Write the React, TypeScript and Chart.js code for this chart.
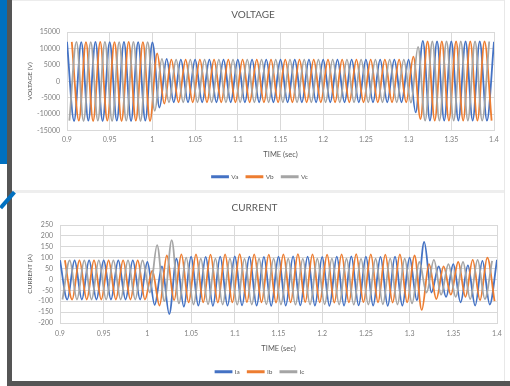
import React, { useEffect, useRef } from "react";
import { Chart, registerables } from "chart.js";
Chart.register(...registerables);

// Sample times (s), one every 1/360 s; phase A uses every 3rd from index 0, phase C from 1, phase B from 2
const TIME = [
  0.9, 0.9028, 0.9056, 0.9083, 0.9111, 0.9139, 0.9167, 0.9194, 0.9222, 0.925, 0.9278, 0.9306, 0.9333, 0.9361, 0.9389, 0.9417, 0.9444, 0.9472,
  0.95, 0.9528, 0.9556, 0.9583, 0.9611, 0.9639, 0.9667, 0.9694, 0.9722, 0.975, 0.9778, 0.9806, 0.9833, 0.9861, 0.9889, 0.9917, 0.9944, 0.9972,
  1.0, 1.0028, 1.0056, 1.0083, 1.0111, 1.0139, 1.0167, 1.0194, 1.0222, 1.025, 1.0278, 1.0306, 1.0333, 1.0361, 1.0389, 1.0417, 1.0444, 1.0472,
  1.05, 1.0528, 1.0556, 1.0583, 1.0611, 1.0639, 1.0667, 1.0694, 1.0722, 1.075, 1.0778, 1.0806, 1.0833, 1.0861, 1.0889, 1.0917, 1.0944, 1.0972,
  1.1, 1.1028, 1.1056, 1.1083, 1.1111, 1.1139, 1.1167, 1.1194, 1.1222, 1.125, 1.1278, 1.1306, 1.1333, 1.1361, 1.1389, 1.1417, 1.1444, 1.1472,
  1.15, 1.1528, 1.1556, 1.1583, 1.1611, 1.1639, 1.1667, 1.1694, 1.1722, 1.175, 1.1778, 1.1806, 1.1833, 1.1861, 1.1889, 1.1917, 1.1944, 1.1972,
  1.2, 1.2028, 1.2056, 1.2083, 1.2111, 1.2139, 1.2167, 1.2194, 1.2222, 1.225, 1.2278, 1.2306, 1.2333, 1.2361, 1.2389, 1.2417, 1.2444, 1.2472,
  1.25, 1.2528, 1.2556, 1.2583, 1.2611, 1.2639, 1.2667, 1.2694, 1.2722, 1.275, 1.2778, 1.2806, 1.2833, 1.2861, 1.2889, 1.2917, 1.2944, 1.2972,
  1.3, 1.3028, 1.3056, 1.3083, 1.3111, 1.3139, 1.3167, 1.3194, 1.3222, 1.325, 1.3278, 1.3306, 1.3333, 1.3361, 1.3389, 1.3417, 1.3444, 1.3472,
  1.35, 1.3528, 1.3556, 1.3583, 1.3611, 1.3639, 1.3667, 1.3694, 1.3722, 1.375, 1.3778, 1.3806, 1.3833, 1.3861, 1.3889, 1.3917, 1.3944, 1.3972,
  1.4,
];

const X_TICKS = [0.9, 0.95, 1, 1.05, 1.1, 1.15, 1.2, 1.25, 1.3, 1.35, 1.4];
const V_TICKS = [-15000, -10000, -5000, 0, 5000, 10000, 15000];
const I_TICKS = [-200, -150, -100, -50, 0, 50, 100, 150, 200, 250];

// Voltage waveform extrema (V)
const VA = [
  12000, -12100, 11900, -12000, 12000, -12100, 11900, -12000, 12000, -12100, 11900, -12000,
  11800, -8000, 6800, -6400,
  6600, -6400, 6600, -6400, 6600, -6400, 6600, -6400, 6600, -6400, 6600, -6400, 6600, -6400, 6600, -6400,
  6600, -6400, 6600, -6400, 6600, -6400, 6600, -6400, 6600, -6400, 6600, -6400, 6600, -6400, 6600, -6400,
  6600, -9500, 12300, -12000, 12100, -12000, 12100, -12000, 12100, -12000, 12100, -12000, 12000,
];
const VC = [
  -12000, 12000, -12100, 11900, -12000, 12000, -12100, 11900, -12000, 12000, -12100, 11900,
  -9000, 6800,
  -6400, 6600, -6400, 6600, -6400, 6600, -6400, 6600, -6400, 6600, -6400, 6600, -6400, 6600, -6400, 6600, -6400,
  6600, -6400, 6600, -6400, 6600, -6400, 6600, -6400, 6600, -6400, 6600, -6400, 6600, -6400, 6600, -6400, 6600,
  -6500, 10500, -12000, 12100, -12000, 12100, -12000, 12100, -12000, 12100, -12000, 12100,
];
const VB = [
  12000, -12000, 11900, -12100, 12000, -12000, 11900, -12100, 12000, -12000, 11900, -12100,
  8500, -6800,
  6600, -6400, 6600, -6400, 6600, -6400, 6600, -6400, 6600, -6400, 6600, -6400, 6600, -6400, 6600, -6400, 6600,
  -6400, 6600, -6400, 6600, -6400, 6600, -6400, 6600, -6400, 6600, -6400, 6600, -6400, 6600, -6400, 6600, -6400,
  7500, -11500, 12100, -12000, 12100, -12000, 12100, -12000, 12100, -12000, 12100, -12000,
];

// Current waveform extrema (A)
const IA = [
  88, -92, 88, -92, 88, -92, 88, -92, 88, -92, 88, -92,
  80, -117, 60, -159, 95, -125,
  105, -120, 104, -121, 105, -120, 106, -119, 105, -120, 104, -121, 105, -120, 106,
  -119, 105, -120, 104, -121, 105, -120, 106, -119, 105, -120, 104, -121, 105, -120,
  100, -95, 172, -60, 60, -80, 70, -105, 65, -120, 85, -115, 90,
];
const IC = [
  -92, 88, -92, 88, -92, 88, -92, 88, -92, 88, -92, 88,
  -60, 158, -100, 181, -110, 100,
  -115, 95, -114, 96, -115, 95, -116, 94, -115, 95, -114, 96, -115, 95, -116,
  94, -115, 95, -114, 96, -115, 95, -116, 94, -115, 95, -114, 96, -115, 95,
  -110, 80, -60, 90, -70, 70, -80, 80, -90, 90, -90, 85,
];
const IB = [
  88, -92, 88, -92, 88, -92, 88, -92, 88, -92, 88, -92,
  40, -120, 110, -95, 115, -105,
  115, -105, 114, -106, 115, -105, 116, -104, 115, -105, 114, -106, 115, -105, 116,
  -104, 115, -105, 114, -106, 115, -105, 116, -104, 115, -105, 114, -106, 115, -105,
  110, -140, 70, -90, 60, -70, 80, -80, 90, -95, 100, -100,
];

const BLUE = "#4472C4";
const ORANGE = "#ED7D31";
const GRAY = "#A5A5A5";
const FONT = "Lato";
const TEXT = "#595959";
const GRID = "#d9d9d9";
const LEGEND_PAD = 8;

function series(values: number[], offset: number) {
  return values.map((v, j) => ({ x: TIME[offset + 3 * j], y: v }));
}

type Cfg = {
  title: string;
  yTitle: string;
  yTicks: number[];
  names: string[];
  data: number[][];
  offsets: number[];
  yWidth: number;
  xHeight: number;
  titlePad: { top: number; bottom: number };
  xTickPad: number;
  xTitlePad: number;
  bottomPad: number;
  rightPad: number;
  legendCenter: number;
};

function WaveChart({ cfg, width, height }: { cfg: Cfg; width: number; height: number }) {
  const ref = useRef<HTMLCanvasElement | null>(null);
  useEffect(() => {
    if (!ref.current) return;
    const colors = [BLUE, ORANGE, GRAY];
    const legendPos = {
      id: "legendPos",
      beforeDraw(chart: any) {
        const lg = chart.legend;
        if (!lg) return;
        lg.left = 0;
        lg.right = 2 * cfg.legendCenter - LEGEND_PAD;
      },
    };
    const chart = new Chart(ref.current, {
      type: "line",
      data: {
        datasets: cfg.data.map((vals, i) => ({
          label: cfg.names[i],
          data: series(vals, cfg.offsets[i]),
          borderColor: colors[i],
          backgroundColor: colors[i],
          borderWidth: 1.8,
          pointRadius: 0,
          cubicInterpolationMode: "monotone",
          order: 3 - i,
        })),
      },
      options: {
        animation: false,
        responsive: false,
        maintainAspectRatio: false,
        layout: { padding: { left: 0, right: cfg.rightPad, top: 0, bottom: cfg.bottomPad } },
        plugins: {
          title: {
            display: true,
            text: cfg.title,
            color: TEXT,
            font: { family: FONT, size: 10, weight: "normal" },
            padding: cfg.titlePad,
          },
          legend: {
            position: "bottom",
            labels: {
              boxWidth: 16,
              boxHeight: 1,
              padding: LEGEND_PAD,
              color: TEXT,
              font: { family: FONT, size: 6.5 },
              sort: (a: any, b: any) => a.datasetIndex - b.datasetIndex,
            },
          },
          tooltip: { enabled: false },
        },
        scales: {
          x: {
            type: "linear",
            min: 0.9,
            max: 1.4,
            afterBuildTicks: (s: any) => {
              s.ticks = X_TICKS.map((v) => ({ value: v }));
            },
            afterFit: (s: any) => {
              s.height = cfg.xHeight;
            },
            ticks: {
              color: "#7f7f7f",
              font: { family: FONT, size: 7 },
              padding: cfg.xTickPad,
              maxRotation: 0,
              autoSkip: false,
              callback: (v: any) => String(v),
            },
            grid: { color: GRID, drawTicks: false },
            border: { color: GRID },
            title: {
              display: true,
              text: "TIME (sec)",
              color: TEXT,
              font: { family: FONT, size: 7.5 },
              padding: { top: 0, bottom: cfg.xTitlePad },
            },
          },
          y: {
            type: "linear",
            min: cfg.yTicks[0],
            max: cfg.yTicks[cfg.yTicks.length - 1],
            afterBuildTicks: (s: any) => {
              s.ticks = cfg.yTicks.map((v) => ({ value: v }));
            },
            afterFit: (s: any) => {
              s.width = cfg.yWidth;
            },
            ticks: {
              color: "#7f7f7f",
              font: { family: FONT, size: 7 },
              padding: 7,
              autoSkip: false,
              callback: (v: any) => String(v),
            },
            grid: { color: GRID, drawTicks: false },
            border: { color: GRID },
            title: {
              display: true,
              text: cfg.yTitle,
              color: TEXT,
              font: { family: FONT, size: 6.5 },
              padding: { top: 14, bottom: 0 },
            },
          },
        },
      } as any,
      plugins: [legendPos],
    });
    return () => chart.destroy();
  }, []);
  return <canvas ref={ref} width={width} height={height} style={{ display: "block" }} />;
}

const voltageCfg: Cfg = {
  title: "VOLTAGE",
  yTitle: "VOLTAGE (V)",
  yTicks: V_TICKS,
  names: ["Va", "Vb", "Vc"],
  data: [VA, VB, VC],
  offsets: [0, 2, 1],
  yWidth: 55,
  xHeight: 35,
  titlePad: { top: 9, bottom: 11 },
  xTickPad: 5,
  xTitlePad: 6,
  bottomPad: 0,
  rightPad: 16,
  legendCenter: 252,
};

const currentCfg: Cfg = {
  title: "CURRENT",
  yTitle: "CURRENT (A)",
  yTicks: I_TICKS,
  names: ["Ia", "Ib", "Ic"],
  data: [IA, IB, IC],
  offsets: [0, 2, 1],
  yWidth: 48,
  xHeight: 37.5,
  titlePad: { top: 10, bottom: 11 },
  xTickPad: 7,
  xTitlePad: 7,
  bottomPad: 1,
  rightPad: 13,
  legendCenter: 252,
};

export default function App() {
  const abs = (s: React.CSSProperties): React.CSSProperties => ({ position: "absolute", ...s });
  return (
    <div style={{ position: "fixed", left: 0, top: 0, width: 510, height: 386, background: "#ffffff", overflow: "hidden" }}>
      <div style={abs({ left: 12, top: 0, width: 492, height: 381, background: "#ffffff", borderTop: "1px solid #ececec" })} />
      <div style={abs({ left: 504, top: 0, width: 1, height: 381, background: "#e8e8e8" })} />
      <div style={abs({ left: 12, top: 0, width: 498, height: 190 })}>
        <WaveChart cfg={voltageCfg} width={498} height={190} />
      </div>
      <div style={abs({ left: 12, top: 190, width: 492, height: 3, background: "#eeeeee" })} />
      <div style={abs({ left: 12, top: 192, width: 498, height: 194 })}>
        <WaveChart cfg={currentCfg} width={498} height={194} />
      </div>
      <div style={abs({ left: 0, top: 0, width: 7, height: 164, background: "#0070C0" })} />
      <div style={abs({ left: 7, top: 0, width: 5, height: 386, background: "#555555" })} />
      <div style={abs({ left: 7, top: 381, width: 503, height: 5, background: "#555555" })} />
      <div
        style={abs({
          left: -3,
          top: 198,
          width: 21,
          height: 4,
          background: "#0070C0",
          transform: "rotate(-49deg)",
          transformOrigin: "50% 50%",
        })}
      />
    </div>
  );
}
